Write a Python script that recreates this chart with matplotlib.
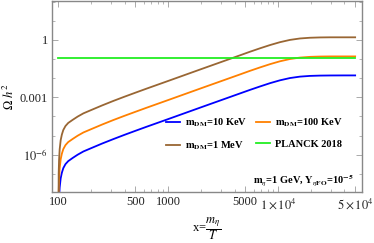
import matplotlib
matplotlib.use("Agg")
import matplotlib.pyplot as plt
from matplotlib.ticker import FixedLocator, NullFormatter

plt.rcParams['mathtext.fontset'] = 'stix'
plt.rcParams['font.family'] = ['Liberation Serif', 'DejaVu Serif']

# ---- data ----
x_vals = [100, 100.7, 101.5, 102.8, 105, 107.6, 110.9, 116.1, 123, 134.9, 149.6,
          169, 200, 251, 316, 398, 501, 631, 1000, 2000, 4490, 5530, 6820, 8410,
          10350, 12770, 15740, 19400, 23930, 29510, 39810, 50000]

omega_brown = [1e-12, 1.0e-7, 5.25e-7, 1.91e-6, 5.75e-6, 1.12e-5, 1.95e-5, 3.16e-5,
               4.57e-5, 6.61e-5, 9.77e-5, 1.45e-4, 2.19e-4, 3.80e-4, 6.46e-4,
               1.07e-3, 1.74e-3, 2.82e-3, 7.24e-3, 0.0302, 0.158, 0.243, 0.367,
               0.543, 0.767, 1.01, 1.20, 1.31, 1.36, 1.38, 1.38, 1.38]

omega_orange = [1e-13, 1.0e-8, 5.25e-8, 1.91e-7, 5.75e-7, 1.12e-6, 1.95e-6, 3.16e-6,
                4.57e-6, 6.61e-6, 9.77e-6, 1.45e-5, 2.19e-5, 3.80e-5, 6.46e-5,
                1.07e-4, 1.74e-4, 2.82e-4, 7.24e-4, 3.02e-3, 0.0158, 0.0243, 0.0367,
                0.0543, 0.0767, 0.101, 0.120, 0.131, 0.136, 0.138, 0.138, 0.138]

omega_blue = [1e-14, 1.0e-9, 5.3e-9, 1.93e-8, 5.8e-8, 1.13e-7, 1.97e-7, 3.2e-7,
              4.6e-7, 6.7e-7, 9.9e-7, 1.47e-6, 2.22e-6, 3.85e-6, 6.5e-6, 1.08e-5,
              1.76e-5, 2.85e-5, 7.3e-5, 3.05e-4, 1.60e-3, 2.45e-3, 3.7e-3, 5.5e-3,
              7.75e-3, 0.0102, 0.0121, 0.0132, 0.0137, 0.0139, 0.0140, 0.0140]

x_planck = [100, 50000]
omega_planck = [0.12, 0.12]

labels = [r'$\mathbf{m}_{\mathbf{DM}}$=10 KeV', r'$\mathbf{m}_{\mathbf{DM}}$=100 KeV',
          r'$\mathbf{m}_{\mathbf{DM}}$=1 MeV', 'PLANCK 2018']
colors = ['#0000ff', '#ff8000', '#996633', '#22ee22']

xticks_major = [100, 500, 1000, 5000, 10000, 50000]
xtick_labels = ['100', '500', '1000', '5000', r'$1\times10^{4}$', r'$5\times10^{4}$']
yticks_major = [1, 1e-3, 1e-6]
ytick_labels = ['1', '0.001', r'$10^{-6}$']

# ---- figure ----
fig = plt.figure(figsize=(3.74, 2.43), dpi=100)
ax = fig.add_axes([0.140, 0.2086, 0.827, 0.7874])

l1, = ax.plot(x_vals, omega_blue, color=colors[0], lw=1.3)
l2, = ax.plot(x_vals, omega_orange, color=colors[1], lw=1.3)
l3, = ax.plot(x_vals, omega_brown, color=colors[2], lw=1.3)
l4, = ax.plot(x_planck, omega_planck, color=colors[3], lw=1.3)

ax.set_xscale('log')
ax.set_yscale('log')
ax.set_xlim(88.2, 57300)
ax.set_ylim(1.07e-8, 110)

ax.xaxis.set_major_locator(FixedLocator(xticks_major))
ax.set_xticklabels(xtick_labels)
minor_x = [m * d for d in (100, 1000, 10000) for m in range(2, 10)]
minor_x = [v for v in minor_x if v not in xticks_major and v < 57300]
ax.xaxis.set_minor_locator(FixedLocator(minor_x))
ax.xaxis.set_minor_formatter(NullFormatter())

ax.yaxis.set_major_locator(FixedLocator(yticks_major))
ax.set_yticklabels(ytick_labels)
minor_y = [10.0 ** k for k in range(-8, 3) if k not in (0, -3, -6)]
ax.yaxis.set_minor_locator(FixedLocator(minor_y))
ax.yaxis.set_minor_formatter(NullFormatter())

frame_col = '#888888'
for s in ax.spines.values():
    s.set_color(frame_col)
    s.set_linewidth(1.0)
ax.tick_params(which='both', direction='in', top=True, right=True, color='#aaaaaa',
               labelsize=9, labelcolor='#222222', pad=3)
ax.tick_params(which='major', length=4, width=0.7)
ax.tick_params(which='minor', length=2, width=0.6)

ax.set_xlabel(r'x=$\dfrac{m_{\eta}}{T}$', fontsize=9, labelpad=3)
ax.set_ylabel(r'$\Omega\ h^{2}$', fontsize=9, labelpad=2)

# row-major order: (blue, orange) on row 1, (brown, green) on row 2
handles = [l1, l3, l2, l4]
leg_labels = [labels[0], labels[2], labels[1], labels[3]]
leg = ax.legend(handles, leg_labels, ncol=2, loc='upper left',
                bbox_to_anchor=(0.444, 0.519), bbox_transform=fig.transFigure,
                frameon=False, borderpad=0, borderaxespad=0, handlelength=1.3,
                handletextpad=0.55, columnspacing=0.8, labelspacing=1.0,
                prop={'family': 'Liberation Serif', 'weight': 'bold', 'size': 7.5})

fig.text(354 / 374, 1 - 180 / 243,
         r'$\mathbf{m}_{\eta}$=1 GeV, $\mathbf{Y}_{\eta\mathbf{FO}}$=10$^{\mathbf{-5}}$',
         ha='right', va='center', fontsize=7.5, fontweight='bold')

fig.savefig('out.png', dpi=100)
